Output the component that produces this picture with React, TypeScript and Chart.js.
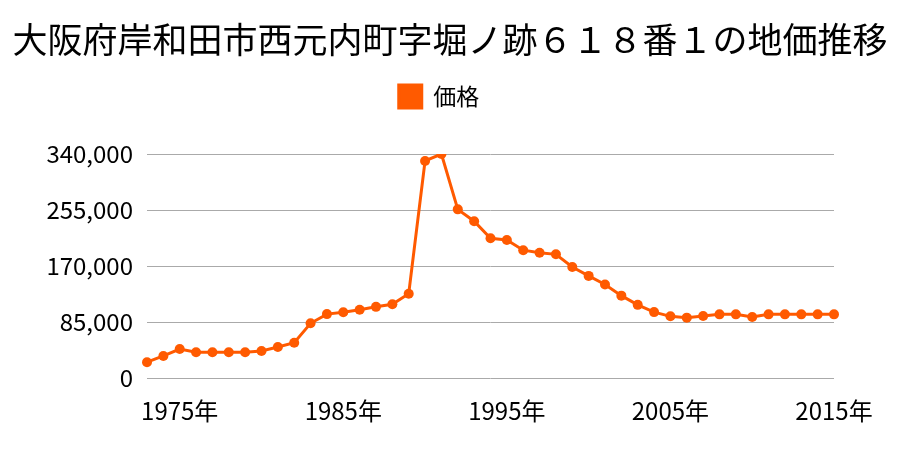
import React, { useEffect, useRef } from "react";
import { Chart, registerables } from "chart.js";

Chart.register(...registerables);

const TITLE = "大阪府岸和田市西元内町字堀ノ跡６１８番１の地価推移";
const SERIES_LABEL = "価格";
const years: number[] = [
  1973, 1974, 1975, 1976, 1977, 1978, 1979, 1980, 1981, 1982,
  1983, 1984, 1985, 1986, 1987, 1988, 1989, 1990, 1991, 1992,
  1993, 1994, 1995, 1996, 1997, 1998, 1999, 2000, 2001, 2002,
  2003, 2004, 2005, 2006, 2007, 2008, 2009, 2010, 2011, 2012,
  2013, 2014, 2015,
];
const prices: number[] = [
  24000, 33500, 44000, 39000, 39000, 39000, 39000, 41000, 47000, 53500,
  83000, 97000, 99700, 103700, 108000, 112000, 128000, 329500, 340000, 256000,
  238000, 212000, 209500, 194000, 190000, 187700, 168500, 155000, 142000, 125000,
  111000, 100000, 93600, 91600, 94100, 96600, 96600, 92600, 96600, 96600,
  96600, 96600, 96600,
];
const yTicks: number[] = [0, 85000, 170000, 255000, 340000];
const labeledYears: number[] = [1975, 1985, 1995, 2005, 2015];

const FONT = "'Noto Sans CJK JP', 'Noto Sans', sans-serif";
const COLOR = "#ff5a00";

const legendSpacer = {
  id: "legendSpacer",
  beforeLayout(chart: any) {
    const lg = chart.legend;
    if (lg && !lg._spacerPatched) {
      const orig = lg.fit;
      lg.fit = function () {
        orig.call(this);
        this.height += 36;
      };
      lg._spacerPatched = true;
    }
  },
  beforeDraw(chart: any) {
    const lg = chart.legend;
    if (lg) lg.right = lg.left + lg.width - 22;
  },
};

export default function App() {
  const ref = useRef<HTMLCanvasElement | null>(null);
  useEffect(() => {
    if (!ref.current) return;
    const chart = new Chart(ref.current, {
      type: "line",
      data: {
        labels: years.map((y) => `${y}年`),
        datasets: [
          {
            label: SERIES_LABEL,
            data: prices,
            borderColor: COLOR,
            backgroundColor: COLOR,
            borderWidth: 3,
            pointRadius: 5,
            pointHoverRadius: 5,
            pointBackgroundColor: COLOR,
            pointBorderWidth: 0,
            tension: 0,
          },
        ],
      },
      plugins: [legendSpacer],
      options: {
        animation: false,
        responsive: false,
        maintainAspectRatio: false,
        layout: { padding: { left: 0, right: 0, top: 0, bottom: 0 } },
        plugins: {
          title: {
            display: true,
            text: TITLE,
            color: "#000",
            font: { family: FONT, size: 35, weight: "normal" },
            padding: { top: 19, bottom: 14 },
          },
          legend: {
            display: true,
            labels: {
              color: "#000",
              boxWidth: 23,
              boxHeight: 23,
              font: { family: FONT, size: 23 },
              padding: 10,
            },
          },
          tooltip: { enabled: false },
        },
        scales: {
          x: {
            offset: false,
            grid: { display: false },
            border: { display: false },
            afterFit: (axis: any) => {
              axis.height = 72;
              axis.paddingRight = 66;
            },
            ticks: {
              autoSkip: false,
              maxRotation: 0,
              color: "#000",
              font: { family: FONT, size: 24 },
              padding: 10,
              callback: (_v: any, i: number) =>
                labeledYears.includes(years[i]) ? `${years[i]}年` : "",
            },
          },
          y: {
            min: 0,
            max: 340000,
            afterBuildTicks: (axis: any) => {
              axis.ticks = yTicks.map((v) => ({ value: v }));
            },
            afterFit: (axis: any) => {
              axis.width = 147;
            },
            grid: { color: "#aaaaaa", lineWidth: 1, drawTicks: false },
            border: { display: false },
            ticks: {
              color: "#000",
              font: { family: FONT, size: 24 },
              padding: 14,
              callback: (v: any) => Number(v).toLocaleString("en-US"),
            },
          },
        },
      },
    });
    return () => chart.destroy();
  }, []);
  return (
    <div style={{ position: "absolute", left: 0, top: 0, width: 900, height: 450 }}>
      <canvas ref={ref} width={900} height={450} style={{ width: 900, height: 450 }} />
    </div>
  );
}
